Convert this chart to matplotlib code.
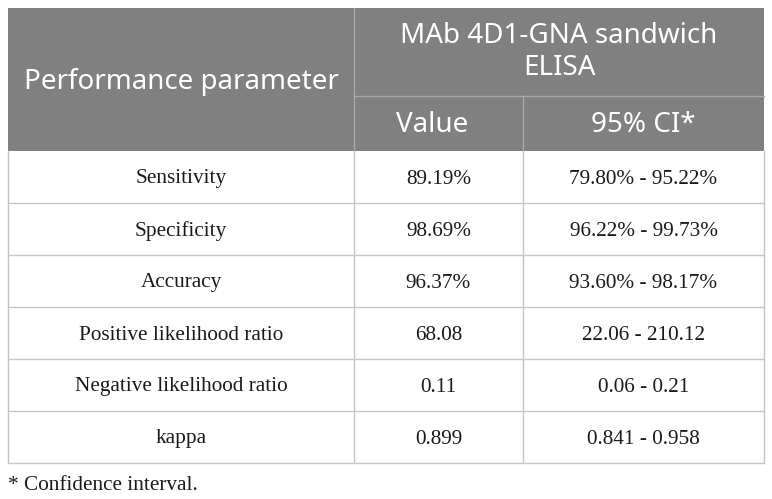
import matplotlib.pyplot as plt

# table content
params = ['Sensitivity', 'Specificity', 'Accuracy', 'Positive likelihood ratio',
          'Negative likelihood ratio', 'kappa']
values = ['89.19%', '98.69%', '96.37%', '68.08', '0.11', '0.899']
ci = ['79.80% - 95.22%', '96.22% - 99.73%', '93.60% - 98.17%', '22.06 - 210.12',
      '0.06 - 0.21', '0.841 - 0.958']
header_main = 'Performance parameter'
header_group = ['MAb 4D1-GNA sandwich', 'ELISA']
header_sub = ['Value', '95% CI*']
footnote = '* Confidence interval.'

W, H = 772, 499
fig = plt.figure(figsize=(W / 100, H / 100), dpi=100)
ax = fig.add_axes([0, 0, 1, 1])
ax.set_xlim(0, W)
ax.set_ylim(H, 0)
ax.axis('off')

# layout in pixels
x0, x1, x2, x3 = 8, 354, 523, 764
y_top, y_mid, y_head = 8, 96, 151
row_h = (463 - y_head) / len(params)
head_col = '#808080'
line_col = '#c4c4c4'
sans = 'Noto Sans'
serif = 'Liberation Serif'
hsize = 20
bsize = 15.3

# header background
ax.add_patch(plt.Rectangle((x0, y_top), x3 - x0, y_head - y_top, color=head_col, lw=0))
ax.plot([x1, x1], [y_top, y_head], color='#a8a8a8', lw=1)
ax.plot([x2, x2], [y_mid, y_head], color='#a8a8a8', lw=1)
ax.plot([x1, x3], [y_mid, y_mid], color='#a8a8a8', lw=1)

ax.text((x0 + x1) / 2, 82, header_main, color='white', family=sans,
        fontsize=hsize, ha='center', va='center')
ax.text((x1 + x3) / 2, 36, header_group[0], color='white', family=sans,
        fontsize=hsize, ha='center', va='center')
ax.text((x1 + x3) / 2, 68, header_group[1], color='white', family=sans,
        fontsize=hsize, ha='center', va='center')
ax.text((x1 + x2) / 2 - 6, 125, header_sub[0], color='white', family=sans,
        fontsize=hsize, ha='center', va='center')
ax.text((x2 + x3) / 2, 125, header_sub[1], color='white', family=sans,
        fontsize=hsize, ha='center', va='center')

# body rows
for i, (p, v, c) in enumerate(zip(params, values, ci)):
    yc = y_head + (i + 0.5) * row_h + 2
    ax.text((x0 + x1) / 2, yc, p, family=serif, fontsize=bsize, ha='center', va='center', color='#1a1a1a')
    ax.text((x1 + x2) / 2, yc, v, family=serif, fontsize=bsize, ha='center', va='center', color='#1a1a1a')
    ax.text((x2 + x3) / 2, yc, c, family=serif, fontsize=bsize, ha='center', va='center', color='#1a1a1a')
    yb = y_head + (i + 1) * row_h
    ax.plot([x0, x3], [yb, yb], color=line_col, lw=1)

y_bot = y_head + len(params) * row_h
for x in (x0, x1, x2, x3):
    ax.plot([x, x], [y_head, y_bot], color=line_col, lw=1)

ax.text(x0, 486, footnote, family=serif, fontsize=bsize, ha='left', va='center', color='#1a1a1a')

plt.savefig('out.png', dpi=100)
